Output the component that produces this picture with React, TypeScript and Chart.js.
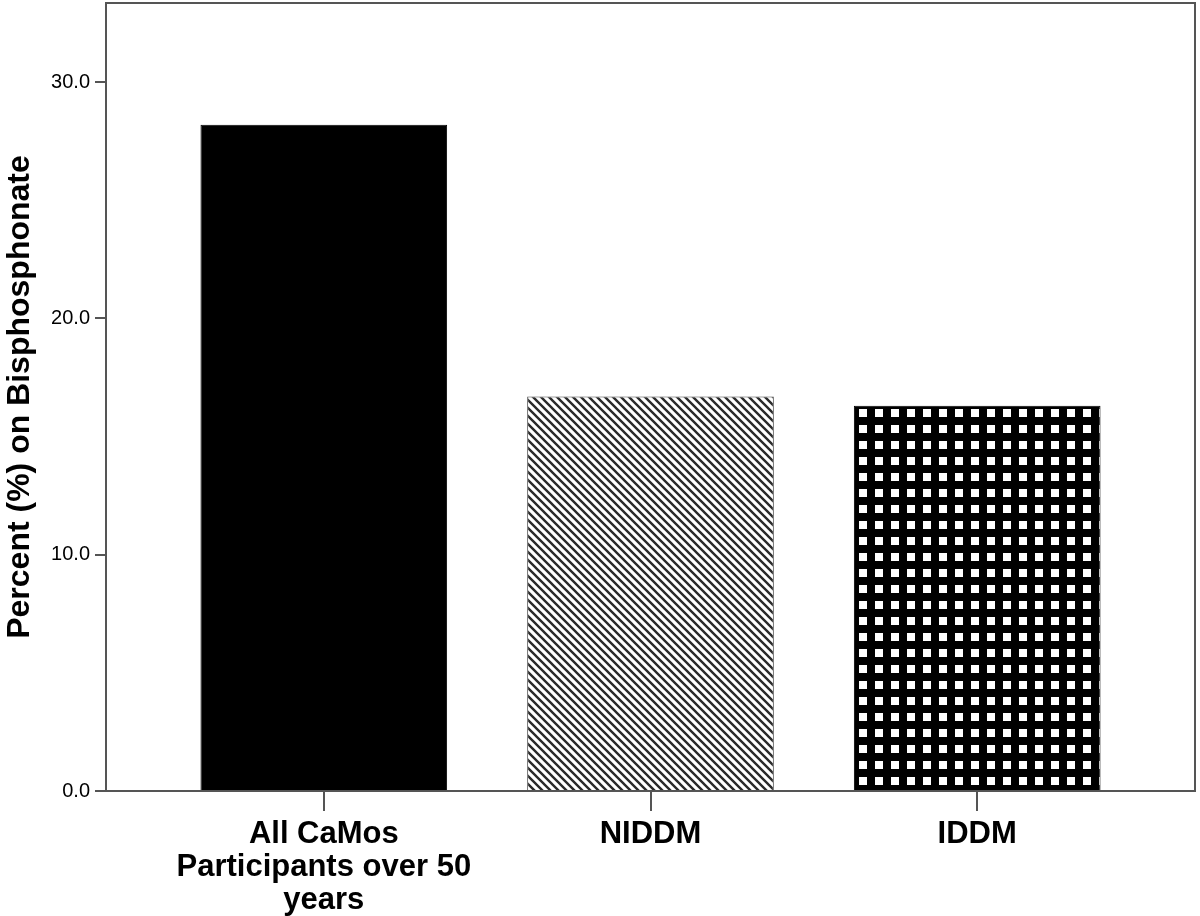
import React, { useEffect, useRef } from "react";
import { Chart, registerables } from "chart.js";

Chart.register(...registerables);

const categories: string[][] = [
  ["All CaMos", "Participants over 50", "years"],
  ["NIDDM"],
  ["IDDM"],
];
const positions = [0, 1, 2];
const percentOnBisphosphonate = [28.2, 16.7, 16.3];
const yTicks = [0, 10, 20, 30];
const yTitle = "Percent (%) on Bisphosphonate";

function makeStripePattern(): CanvasPattern | string {
  const c = document.createElement("canvas");
  c.width = 8;
  c.height = 8;
  const ctx = c.getContext("2d");
  if (!ctx) return "#888";
  ctx.fillStyle = "#ffffff";
  ctx.fillRect(0, 0, 8, 8);
  ctx.strokeStyle = "#2a2a2a";
  ctx.lineWidth = 2.4;
  ctx.beginPath();
  ctx.moveTo(-2, -2);
  ctx.lineTo(10, 10);
  ctx.moveTo(-10, -2);
  ctx.lineTo(2, 10);
  ctx.moveTo(6, -2);
  ctx.lineTo(18, 10);
  ctx.stroke();
  const p = ctx.createPattern(c, "repeat");
  return p || "#888";
}

function makeGridPattern(): CanvasPattern | string {
  const c = document.createElement("canvas");
  c.width = 16;
  c.height = 16;
  const ctx = c.getContext("2d");
  if (!ctx) return "#000";
  ctx.fillStyle = "#000000";
  ctx.fillRect(0, 0, 16, 16);
  ctx.fillStyle = "#ffffff";
  ctx.fillRect(0, 0, 8, 8);
  const p = ctx.createPattern(c, "repeat");
  if (p && typeof DOMMatrix !== "undefined") {
    try {
      p.setTransform(new DOMMatrix().translate(11, 9));
    } catch (e) {
      /* ignore */
    }
  }
  return p || "#000";
}

const framePlugin = {
  id: "frame",
  afterDatasetsDraw(chart: any) {
    const { ctx, chartArea } = chart;
    ctx.save();
    ctx.strokeStyle = "#555555";
    ctx.lineWidth = 2;
    ctx.strokeRect(
      chartArea.left,
      chartArea.top,
      chartArea.right - chartArea.left,
      chartArea.bottom - chartArea.top
    );
    ctx.restore();
  },
};

export default function App() {
  const ref = useRef<HTMLCanvasElement | null>(null);

  useEffect(() => {
    document.body.style.margin = "0";
    const canvas = ref.current;
    if (!canvas) return;
    const fills = ["#000000", makeStripePattern(), makeGridPattern()];
    const borders = ["#000000", "#444444", "#000000"];
    const chart = new Chart(canvas, {
      type: "bar",
      data: {
        datasets: [
          {
            data: positions.map((x, i) => ({ x, y: percentOnBisphosphonate[i] })),
            backgroundColor: fills as any,
            borderColor: borders,
            borderWidth: 1,
            barPercentage: 0.755,
            categoryPercentage: 1,
          },
        ],
      },
      options: {
        animation: false,
        responsive: false,
        maintainAspectRatio: false,
        layout: { padding: { top: 3, right: 5, left: 0, bottom: 0 } },
        plugins: {
          legend: { display: false },
          tooltip: { enabled: false },
        },
        scales: {
          x: {
            type: "linear",
            min: -0.6667,
            max: 2.6667,
            offset: false,
            afterBuildTicks: (scale: any) => {
              scale.ticks = positions.map((v) => ({ value: v }));
            },
            afterFit: (scale: any) => {
              scale.height = 125;
              scale.paddingLeft = 0;
              scale.paddingRight = 0;
            },
            border: { display: false },
            grid: {
              offset: false,
              drawOnChartArea: false,
              drawTicks: true,
              tickLength: 20,
              color: "#555555",
              lineWidth: 2,
            },
            ticks: {
              autoSkip: false,
              maxRotation: 0,
              padding: 7,
              color: "#000000",
              font: { family: "'Liberation Sans', Arial, sans-serif", size: 31, weight: "bold", lineHeight: 1.06 },
              callback: (v: any) => {
                const i = positions.indexOf(Number(v));
                return i >= 0 ? categories[i] : "";
              },
            },
          },
          y: {
            min: 0,
            max: 33.35,
            afterBuildTicks: (scale: any) => {
              scale.ticks = yTicks.map((v) => ({ value: v }));
            },
            afterFit: (scale: any) => {
              scale.width = 106;
              scale.paddingTop = 0;
              scale.paddingBottom = 0;
            },
            border: { display: false },
            grid: {
              drawOnChartArea: false,
              drawTicks: true,
              tickLength: 11,
              color: "#555555",
              lineWidth: 2,
            },
            ticks: {
              padding: 5,
              color: "#000000",
              font: { family: "'Liberation Sans', Arial, sans-serif", size: 20 },
              callback: (v: any) => Number(v).toFixed(1),
            },
            title: {
              display: true,
              text: yTitle,
              color: "#000000",
              padding: { top: 1, bottom: 2 },
              font: { family: "'Liberation Sans', Arial, sans-serif", size: 32, weight: "bold" },
            },
          },
        },
      },
      plugins: [framePlugin],
    });
    return () => chart.destroy();
  }, []);

  return (
    <div style={{ width: 1200, height: 916, background: "#ffffff" }}>
      <canvas ref={ref} width={1200} height={916} style={{ display: "block" }} />
    </div>
  );
}
